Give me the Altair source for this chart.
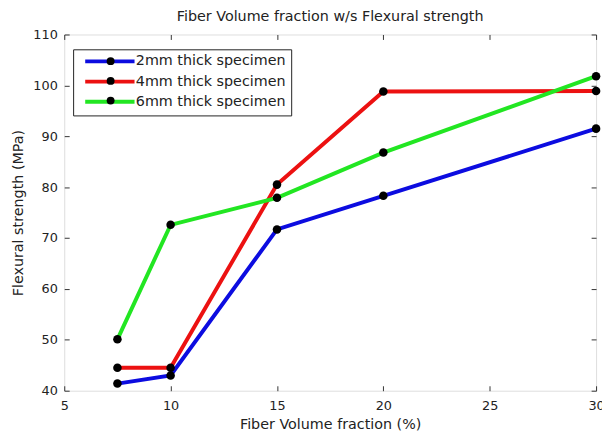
import altair as alt
import pandas as pd

# ---- data ----
fiber_fraction = [7.5, 10, 15, 20, 30]
strength_2mm = [41.4, 43.0, 71.7, 78.3, 91.5]
strength_4mm = [44.5, 44.5, 80.5, 98.8, 98.9]
strength_6mm = [50.1, 72.6, 77.9, 86.8, 101.8]
series_names = ["2mm thick specimen", "4mm thick specimen", "6mm thick specimen"]
series_colors = ["#0c0ce0", "#ec1111", "#22e622"]
x_ticks = [5, 10, 15, 20, 25, 30]
y_ticks = [40, 50, 60, 70, 80, 90, 100, 110]

rows = []
for name, vals in zip(series_names, [strength_2mm, strength_4mm, strength_6mm]):
    for xv, yv in zip(fiber_fraction, vals):
        rows.append({"frac": xv, "strength": yv, "series": name, "series_dot": name})
df = pd.DataFrame(rows)

FONT = "DejaVu Sans"
TXT = "#222222"
W, H = 539, 361

x_scale = alt.Scale(domain=[5, 30], nice=False, zero=False)
y_scale = alt.Scale(domain=[40, 110], nice=False, zero=False)

x_bottom = alt.Axis(values=x_ticks, orient="bottom", title="Fiber Volume fraction (%)", offset=-5,
                    tickSize=5, domain=False, grid=False, labelPadding=9, titlePadding=5,
                    labelFontSize=13, titleFontSize=14.5, titleFontWeight="normal", labelColor=TXT,
                    titleColor=TXT, tickColor="#333", labelFont=FONT, titleFont=FONT,
                    labelFlush=False)
y_left = alt.Axis(values=y_ticks, orient="left", title="Flexural strength (MPa)", offset=-5,
                  tickSize=5, domain=False, grid=False, labelPadding=7, titlePadding=7,
                  labelFontSize=13, titleFontSize=14.5, titleFontWeight="normal", labelColor=TXT,
                  titleColor=TXT, tickColor="#333", labelFont=FONT, titleFont=FONT,
                  labelFlush=False)
x_top = alt.Axis(values=x_ticks, orient="top", title=None, labels=False, offset=-5, tickSize=5,
                 domain=False, grid=False, tickColor="#333")
y_right = alt.Axis(values=y_ticks, orient="right", title=None, labels=False, offset=-5, tickSize=5,
                   domain=False, grid=False, tickColor="#333")

line_legend = alt.Legend(title=None, orient="none", legendX=9, legendY=15,
                         symbolType="M0,0L10,0", symbolSize=100, symbolStrokeWidth=4,
                         labelFontSize=14.5, labelFont=FONT, labelColor=TXT, padding=5,
                         strokeColor="#222", fillColor="white", rowPadding=3.5, labelOffset=44)
dot_legend = alt.Legend(title=None, orient="none", legendX=40, legendY=20, symbolType="circle",
                        symbolSize=64, labelFontSize=14, labelFont=FONT, labelExpr="''",
                        padding=0, rowPadding=6, labelOffset=0, symbolStrokeWidth=0)

base = alt.Chart(df)

lines = base.mark_line(strokeWidth=4).encode(
    x=alt.X("frac:Q", scale=x_scale, axis=x_bottom),
    y=alt.Y("strength:Q", scale=y_scale, axis=y_left),
    color=alt.Color("series:N", scale=alt.Scale(domain=series_names, range=series_colors),
                    legend=line_legend),
)

points = base.mark_point(filled=True, size=75, opacity=1).encode(
    x=alt.X("frac:Q", scale=x_scale, axis=None),
    y=alt.Y("strength:Q", scale=y_scale, axis=None),
    fill=alt.Fill("series_dot:N", scale=alt.Scale(range=["black"] * 3), legend=dot_legend),
)

frame = base.mark_point(opacity=0).encode(
    x=alt.X("frac:Q", scale=x_scale, axis=x_top),
    y=alt.Y("strength:Q", scale=y_scale, axis=y_right),
)

chart = alt.layer(lines, points, frame).resolve_axis(x="independent", y="independent").properties(
    width=W, height=H,
    title=alt.TitleParams("Fiber Volume fraction w/s Flexural strength", fontSize=14.5,
                          fontWeight="normal", font=FONT, color=TXT, offset=4),
    autosize=alt.AutoSizeParams(type="none"),
    padding={"left": 57, "top": 24, "right": 6, "bottom": 40},
).configure_view(stroke="#222", strokeWidth=1).configure(background="white")

chart.save("out.html", embed_options={"renderer": "svg", "actions": False})
